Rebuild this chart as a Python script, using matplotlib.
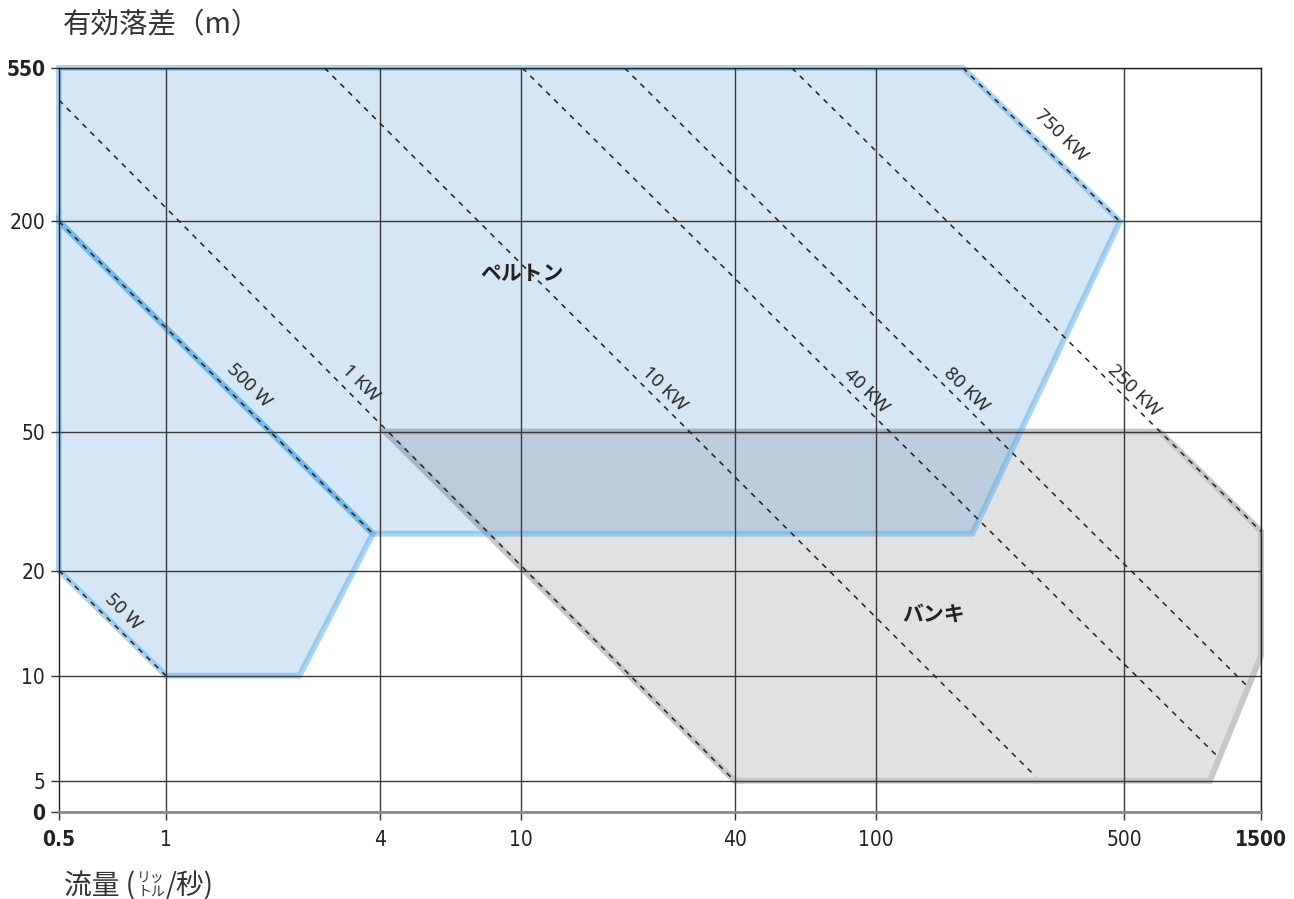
import matplotlib
matplotlib.use("Agg")
import matplotlib.pyplot as plt
from matplotlib.patches import Polygon
from matplotlib.ticker import NullLocator

plt.rcParams['font.family'] = ['DejaVu Sans']
plt.rcParams['font.stretch'] = 'condensed'

# axis ticks (the chart's right / bottom edges are labelled 1500 and 0)
x_ticks = [0.5, 1, 4, 10, 40, 100, 500, 1216]
x_tick_labels = ["0.5", "1", "4", "10", "40", "100", "500", "1500"]
y_ticks = [4.07, 5, 10, 20, 50, 200, 550]
y_tick_labels = ["0", "5", "10", "20", "50", "200", "550"]

# Pelton region (two parts split along the 500 W line)
pelton_upper_q = [0.5, 176, 487, 187, 3.83, 0.5]
pelton_upper_h = [550, 550, 200, 25.5, 25.5, 200]
pelton_lower_q = [0.5, 3.83, 2.38, 1, 0.5]
pelton_lower_h = [200, 25.5, 10, 10, 20]

# Banki region
banki_q = [4.14, 631, 1216, 1216, 873, 40]
banki_h = [50, 50, 25.9, 11.4, 5, 5]

# constant power lines
power_labels = ["50 W", "500 W", "1 KW", "10 KW", "40 KW", "80 KW", "250 KW", "750 KW"]
power_q_start = [0.5, 0.5, 0.5, 2.8, 10.1, 19.6, 58, 176]
power_h_start = [20, 200, 445, 550, 550, 550, 550, 550]
power_q_end = [1, 3.83, 40, 282, 913, 1109, 1216, 487]
power_h_end = [10, 25.5, 5, 5.14, 5.9, 9.36, 25.9, 200]
label_q = [0.757, 1.713, 3.54, 25.4, 93.7, 180, 533, 332]
label_h = [15.2, 67.8, 68.7, 66.4, 65.5, 66, 65.5, 352]

fig = plt.figure(figsize=(12.94, 8.99), dpi=100)
ax = fig.add_axes([59 / 1294, 87 / 899, 1202 / 1294, 744 / 899])
ax.set_xscale('log')
ax.set_yscale('log')
ax.set_xlim(x_ticks[0], x_ticks[-1])
ax.set_ylim(y_ticks[0], y_ticks[-1])

# regions
ax.add_patch(Polygon(list(zip(banki_q, banki_h)), closed=True,
                     facecolor='#e0e1e3', edgecolor='#c6c7c9', lw=4.3,
                     joinstyle='miter', zorder=1, clip_on=False))
pel_face = (45 / 255, 130 / 255, 205 / 255, 0.2)
pel_edge = (0.35, 0.68, 0.90, 0.5)
for qs, hs in [(pelton_upper_q, pelton_upper_h), (pelton_lower_q, pelton_lower_h)]:
    ax.add_patch(Polygon(list(zip(qs, hs)), closed=True,
                         facecolor=pel_face, edgecolor=pel_edge, lw=4.3,
                         joinstyle='miter', zorder=1.5, clip_on=False))

# grid
for v in x_ticks[1:]:
    ax.axvline(v, color='#3a3a3a', lw=1, zorder=2.5)
for h in y_ticks[1:]:
    ax.axhline(h, color='#3a3a3a', lw=1, zorder=2.5)

# power lines and labels
for i in range(len(power_labels)):
    ax.plot([power_q_start[i], power_q_end[i]], [power_h_start[i], power_h_end[i]],
            color='#222222', lw=1.1, dashes=(3.5, 3.8), zorder=3)
    ax.text(label_q[i], label_h[i], power_labels[i], rotation=-44.5,
            rotation_mode='anchor', ha='center', va='center',
            fontsize=13.5, color='#2a2a2a', family=['Noto Sans'],
            stretch='normal', zorder=4)

ax.text(10.07, 142, "ペルトン", ha='center', va='center', fontsize=15,
        fontweight='bold', color='#222222', family=['Noto Sans CJK JP'],
        stretch='normal', zorder=4)
ax.text(145, 14.96, "バンキ", ha='center', va='center', fontsize=15,
        fontweight='bold', color='#222222', family=['Noto Sans CJK JP'],
        stretch='normal', zorder=4)

# axes styling
ax.set_xticks(x_ticks)
ax.set_xticklabels(x_tick_labels)
ax.set_yticks(y_ticks)
ax.set_yticklabels(y_tick_labels)
ax.xaxis.set_minor_locator(NullLocator())
ax.yaxis.set_minor_locator(NullLocator())
ax.tick_params(axis='both', length=6, width=1, color='#333333',
               labelsize=15, labelcolor='#222222')
ax.tick_params(axis='x', pad=7)
ax.tick_params(axis='y', pad=4)
for lab in [ax.get_xticklabels()[0], ax.get_xticklabels()[-1],
            ax.get_yticklabels()[0], ax.get_yticklabels()[-1]]:
    lab.set_fontweight('semibold')

ax.spines['left'].set_color('#222222')
ax.spines['top'].set_color('#222222')
ax.spines['right'].set_color('#222222')
ax.spines['bottom'].set_color('#8a8a8a')
ax.spines['bottom'].set_linewidth(2)
for s in ['left', 'top', 'right']:
    ax.spines[s].set_linewidth(1)

# titles
cjk = dict(color='#333333', family=['Noto Sans CJK JP'], stretch='normal')
fig.text(63 / 1294, 1 - 25 / 899, "有効落差（m）", ha='left', va='center',
         fontsize=20.5, **cjk)
fig.text(64 / 1294, 1 - 886 / 899, "流量 (", ha='left', va='center',
         fontsize=20, **cjk)
fig.text(137 / 1294, 1 - 878 / 899, "リッ", ha='left', va='center',
         fontsize=10, **cjk)
fig.text(137 / 1294, 1 - 892 / 899, "トル", ha='left', va='center',
         fontsize=10, **cjk)
fig.text(166 / 1294, 1 - 886 / 899, "/秒)", ha='left', va='center',
         fontsize=20, **cjk)

fig.savefig("out.png", dpi=100)
